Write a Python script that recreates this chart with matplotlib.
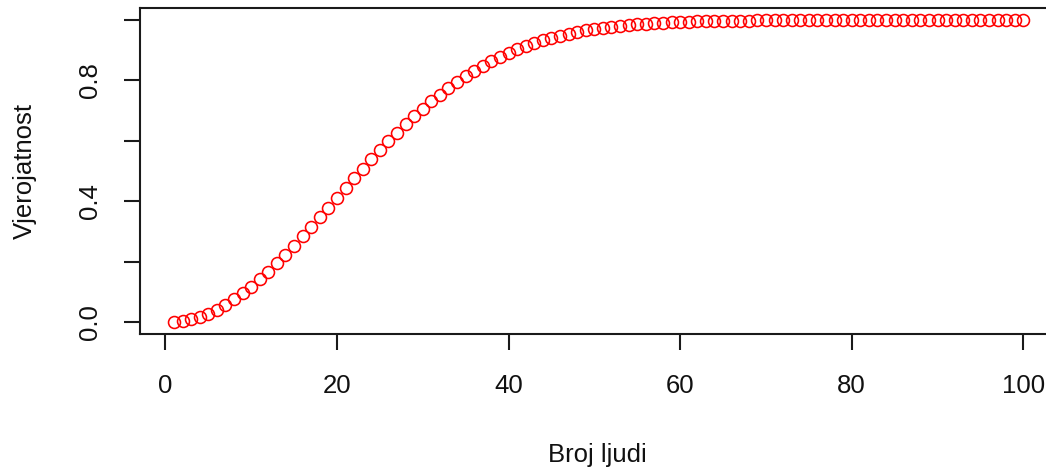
import matplotlib
matplotlib.use("Agg")
import matplotlib.pyplot as plt
import numpy as np

# broj ljudi u grupi
broj_ljudi = list(range(1, 101))
# vjerojatnost (ocitano sa slike)
vjerojatnost = [
    0.0000, 0.0027, 0.0082, 0.0164, 0.0271, 0.0405, 0.0562, 0.0743, 0.0946, 0.1169,
    0.1411, 0.1670, 0.1944, 0.2231, 0.2529, 0.2836, 0.3150, 0.3469, 0.3791, 0.4114,
    0.4437, 0.4757, 0.5073, 0.5383, 0.5687, 0.5982, 0.6269, 0.6545, 0.6810, 0.7063,
    0.7305, 0.7533, 0.7750, 0.7953, 0.8144, 0.8322, 0.8487, 0.8641, 0.8782, 0.8912,
    0.9032, 0.9140, 0.9239, 0.9329, 0.9410, 0.9483, 0.9548, 0.9606, 0.9658, 0.9704,
    0.9744, 0.9780, 0.9811, 0.9839, 0.9863, 0.9883, 0.9901, 0.9917, 0.9930, 0.9941,
    0.9951, 0.9959, 0.9966, 0.9972, 0.9977, 0.9981, 0.9984, 0.9987, 0.9990, 0.9992,
    0.9993, 0.9995, 0.9996, 0.9997, 0.9997, 0.9998, 0.9998, 0.9999, 0.9999, 0.9999,
    1.0000, 1.0000, 1.0000, 1.0000, 1.0000, 1.0000, 1.0000, 1.0000, 1.0000, 1.0000,
    1.0000, 1.0000, 1.0000, 1.0000, 1.0000, 1.0000, 1.0000, 1.0000, 1.0000, 1.0000,
]
x_ticks = [0, 20, 40, 60, 80, 100]
y_ticks = [0.0, 0.2, 0.4, 0.6, 0.8, 1.0]
y_labels = ["0.0", "", "0.4", "", "0.8", ""]

plt.rcParams['font.family'] = ['Liberation Sans', 'DejaVu Sans']

fig = plt.figure(figsize=(10.46, 4.71), dpi=100)
ax = fig.add_axes([0.1338, 0.2909, 0.877, 0.692])

ax.plot(broj_ljudi, vjerojatnost, linestyle='none', marker='o', markersize=8.6,
        markerfacecolor='none', markeredgecolor='#ff0000', markeredgewidth=1.15)

ax.set_xlim(-2.96, 103.96)
ax.set_ylim(-0.04, 1.04)
ax.set_xticks(x_ticks)
ax.set_xticklabels([str(t) for t in x_ticks])
ax.set_yticks(y_ticks)
ax.set_yticklabels(y_labels, rotation=90, va='center')

for s in ax.spines.values():
    s.set_linewidth(1.5)
    s.set_color('#1a1a1a')
ax.tick_params(axis='both', length=11.5, width=1.5, color='#1a1a1a', labelsize=18.5, labelcolor='#111111')
ax.tick_params(axis='x', pad=17)
ax.tick_params(axis='y', pad=16)

fig.text(0.571, 0.034, "Broj ljudi", ha='center', va='center', fontsize=18.5, color='#111111')
fig.text(0.024, 0.637, "Vjerojatnost", ha='center', va='center', rotation=90, fontsize=18.5, color='#111111')

fig.savefig("out.png", dpi=100)
